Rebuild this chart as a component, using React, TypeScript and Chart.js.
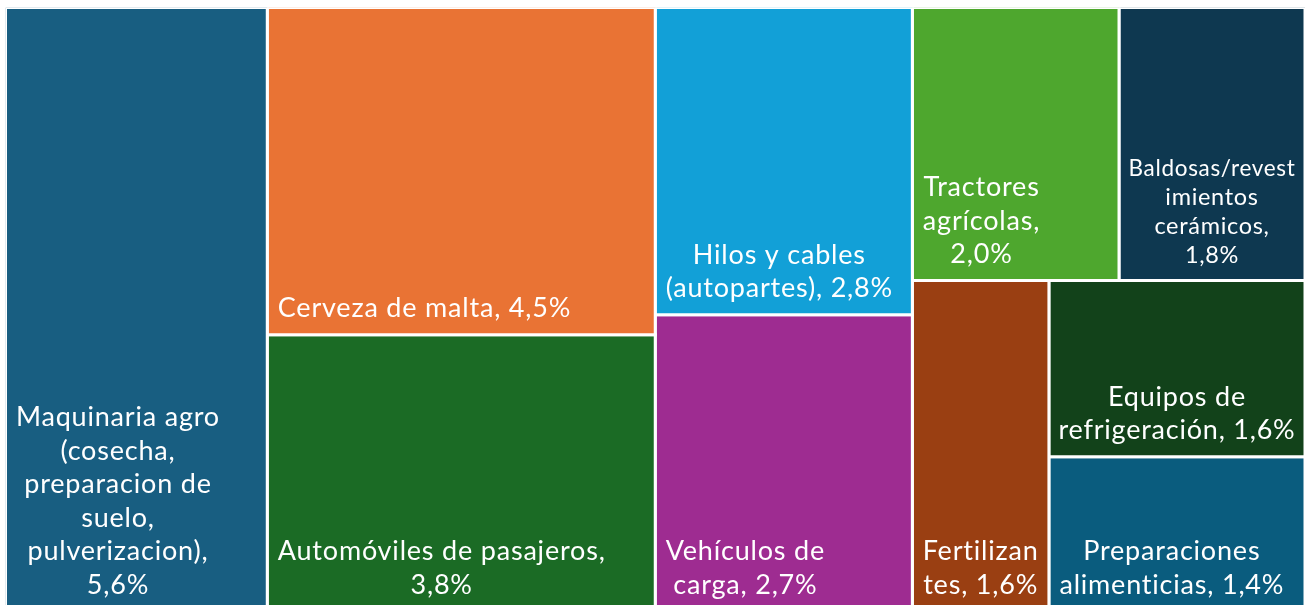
import React, { useEffect, useRef } from "react";
import { Chart, registerables } from "chart.js";

Chart.register(...registerables);

const categories = [
  "Maquinaria agro (cosecha, preparacion de suelo, pulverizacion)",
  "Cerveza de malta",
  "Automóviles de pasajeros",
  "Hilos y cables (autopartes)",
  "Vehículos de carga",
  "Tractores agrícolas",
  "Baldosas/revestimientos cerámicos",
  "Equipos de refrigeración",
  "Fertilizantes",
  "Preparaciones alimenticias",
];

const values = [5.6, 4.5, 3.8, 2.8, 2.7, 2.0, 1.8, 1.6, 1.6, 1.4];

// Label text as shown in the cells ("|" = line break, "{v}" = value)
const labelTemplates = [
  "Maquinaria agro|(cosecha,|preparacion de|suelo,|pulverizacion),|{v}",
  "Cerveza de malta, {v}",
  "Automóviles de pasajeros,|{v}",
  "Hilos y cables|(autopartes), {v}",
  "Vehículos de|carga, {v}",
  "Tractores|agrícolas,|{v}",
  "Baldosas/revest|imientos|cerámicos,|{v}",
  "Equipos de|refrigeración, {v}",
  "Fertilizan|tes, {v}",
  "Preparaciones|alimenticias, {v}",
];

const colors = [
  "#185E81",
  "#E97334",
  "#1B6B25",
  "#12A0D7",
  "#9E2C91",
  "#4EA72E",
  "#0E3850",
  "#12421A",
  "#9A3F12",
  "#0A5C7E",
];

// Treemap split structure (indices into categories)
type TreeNode = number | { dir: "row" | "col"; items: TreeNode[] };
const layoutTree: TreeNode = {
  dir: "row",
  items: [
    0,
    { dir: "col", items: [1, 2] },
    { dir: "col", items: [3, 4] },
    {
      dir: "col",
      items: [
        { dir: "row", items: [5, 6] },
        { dir: "row", items: [8, { dir: "col", items: [7, 9] }] },
      ],
    },
  ],
};

const total = values.reduce((a, b) => a + b, 0);

function nodeSum(n: TreeNode): number {
  if (typeof n === "number") return values[n];
  return n.items.reduce((a, c) => a + nodeSum(c), 0);
}

type Cell = { i: number; x0: number; x1: number; y0: number; y1: number };

function layout(n: TreeNode, x0: number, x1: number, y0: number, y1: number, out: Cell[]) {
  if (typeof n === "number") {
    out.push({ i: n, x0, x1, y0, y1 });
    return;
  }
  const s = nodeSum(n);
  let acc = 0;
  for (const c of n.items) {
    const f0 = acc / s;
    acc += nodeSum(c);
    const f1 = acc / s;
    if (n.dir === "row") layout(c, x0 + (x1 - x0) * f0, x0 + (x1 - x0) * f1, y0, y1, out);
    else layout(c, x0, x1, y0 + (y1 - y0) * f0, y0 + (y1 - y0) * f1, out);
  }
}

const fmt = (v: number) => v.toFixed(1).replace(".", ",") + "%";

const FONT_SIZE = 27;
const FONT_FAMILY = "Lato, 'Noto Sans', sans-serif";

export default function App() {
  const ref = useRef<HTMLCanvasElement | null>(null);

  useEffect(() => {
    if (!ref.current) return;
    const cells: Cell[] = [];
    layout(layoutTree, 0, total, 0, 1, cells);

    const datasets = cells.map((c) => ({
      label: categories[c.i],
      data: [
        { x: c.x0, y: c.y0 },
        { x: c.x1, y: c.y0 },
        { x: c.x1, y: c.y1 },
        { x: c.x0, y: c.y1 },
        { x: c.x0, y: c.y0 },
      ],
      backgroundColor: colors[c.i],
      borderColor: "#ffffff",
      borderWidth: 3,
      borderJoinStyle: "miter" as const,
      borderCapStyle: "square" as const,
      fill: "shape" as any,
      pointRadius: 0,
      pointHoverRadius: 0,
      tension: 0,
    }));

    const labelPlugin = {
      id: "cellLabels",
      afterDatasetsDraw(chart: any) {
        const { ctx, scales } = chart;
        const xs = scales.x;
        const ys = scales.y;
        ctx.save();
        ctx.fillStyle = "#ffffff";
        ctx.textBaseline = "alphabetic";
        ctx.textAlign = "center";
        cells.forEach((c) => {
          const left = xs.getPixelForValue(c.x0) + 1.5;
          const right = xs.getPixelForValue(c.x1) - 1.5;
          const bottom = ys.getPixelForValue(c.y1) - 1.5;
          const lines = labelTemplates[c.i].replace("{v}", fmt(values[c.i])).split("|");
          const pad = 9;
          const avail = right - left - 2 * pad;
          ctx.font = `${FONT_SIZE}px ${FONT_FAMILY}`;
          try {
            (ctx as any).letterSpacing = "0.8px";
          } catch (e) {}
          let blockW = Math.max(...lines.map((l) => ctx.measureText(l).width));
          let scale = 1;
          if (blockW > avail + 4) {
            scale = Math.max(0.87, avail / blockW);
            ctx.font = `${FONT_SIZE * scale}px ${FONT_FAMILY}`;
            try {
              (ctx as any).letterSpacing = `${0.8 * scale}px`;
            } catch (e) {}
            blockW = Math.max(...lines.map((l) => ctx.measureText(l).width));
          }
          let cx = left + pad + blockW / 2;
          if (blockW > avail) cx = (left + right) / 2;
          const maxW = right - left - 2 * 8;
          const lh = 33.5 * scale;
          const lastBase = bottom - 16;
          lines.forEach((l, k) => {
            const y = lastBase - (lines.length - 1 - k) * lh;
            ctx.fillText(l, cx, y, maxW);
          });
        });
        ctx.restore();
      },
    };

    const chart = new Chart(ref.current, {
      type: "line",
      data: { datasets },
      options: {
        animation: false,
        responsive: true,
        maintainAspectRatio: false,
        layout: { padding: { left: 5.5, top: 7.5, right: 0, bottom: 0 } },
        plugins: { legend: { display: false }, tooltip: { enabled: false } },
        events: [],
        scales: {
          x: { type: "linear", min: 0, max: total, display: false },
          y: { type: "linear", min: 0, max: 1, reverse: true, display: false },
        },
      },
      plugins: [labelPlugin],
    });
    return () => chart.destroy();
  }, []);

  return (
    <div style={{ position: "fixed", left: 0, top: 0, width: 1305, height: 611, background: "#ffffff" }}>
      <canvas ref={ref} />
    </div>
  );
}
